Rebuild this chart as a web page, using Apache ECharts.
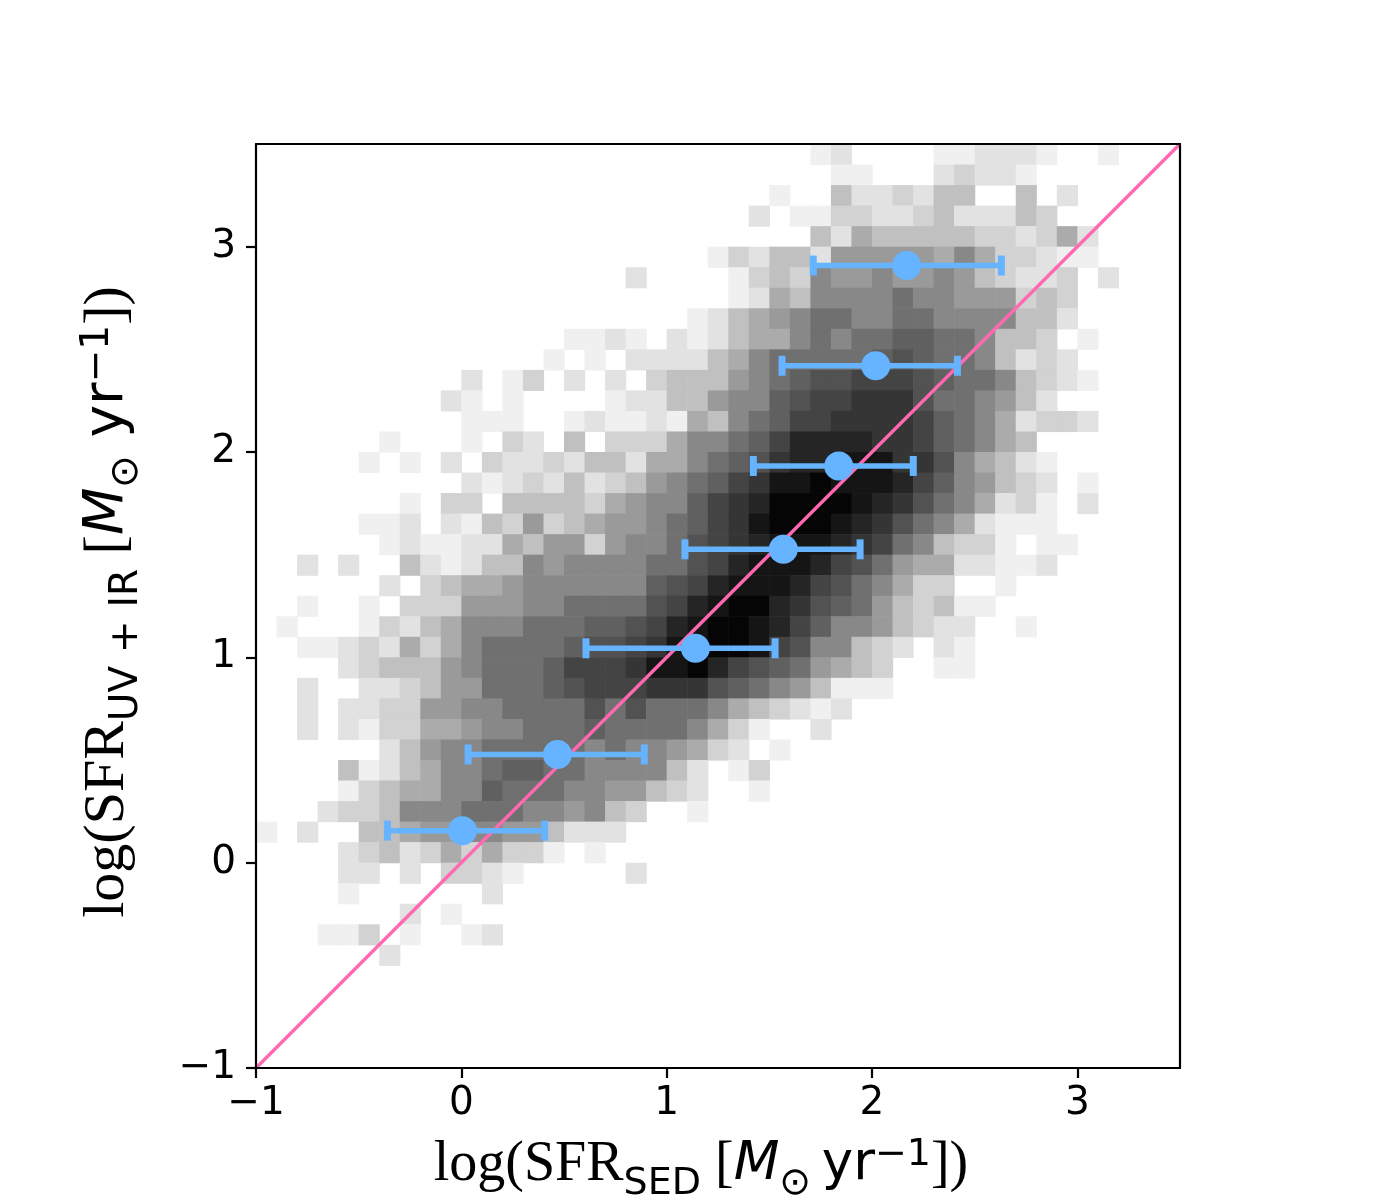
<!DOCTYPE html>
<html lang="en">
<head>
<meta charset="UTF-8">
<title>SFR UV+IR vs SFR SED</title>
<script src="https://cdn.jsdelivr.net/npm/echarts@6/dist/echarts.min.js"></script>
<style>
	html, body { margin: 0; padding: 0; background: #fff; }
	#chart { width: 1400px; height: 1200px; }
</style>
</head>
<body>
<div id="chart"></div>
<script>
// 2D histogram: one hex digit per 0.1 x 0.1 bin,
// 0 = empty, 1 = lightest grey ... f = black.
// rows go from the top (y 3.4..3.5) downwards, columns from x = -1 rightwards
var binSize = 0.1;
var binStartX = -1;
var binTopY = 3.5;
var histRows = [
	'000000000000000' + '000000000000120' + '000112221001000',
	'000000000000000' + '000000000000011' + '000232210000000',
	'000000000000000' + '000000000010042' + '232440040200000',
	'000000000000000' + '000000000201133' + '223422243000000',
	'000000000000000' + '000000000000425' + '444443323520000',
	'000000000000000' + '000000013244266' + '666575332110000',
	'000000000000000' + '000200001343766' + '766764322302000',
	'000000000000000' + '000000001254777' + '787766634300000',
	'000000000000000' + '000000124567887' + '788777744200000',
	'000000000000000' + '112102124557878' + '899887443010000',
	'000000000000001' + '010222245788888' + '9a9887423200000',
	'000000000020130' + '202034446789aab' + 'bba988743210000',
	'000000000210100' + '00122446779abbc' + 'cca887642000000',
	'000000000011100' + '12112154789bbcc' + 'ccb987523320000',
	'000000100010320' + '4033357789bdddd' + 'ccb987540000000',
	'000001010203223' + '244255789acddee' + 'ecca75421000000',
	'000000000021232' + '42346789bceefee' + 'edb976432010000',
	'000000010330444' + '4356779bcdffffe' + 'dca875231020000',
	'000001120214363' + '4566789bcefffed' + 'ca8752111000000',
	'000000121122546' + '636778abcdeeedc' + 'b87433101100000',
	'002020042124476' + '777788abdeeedba' + '865522112000000',
	'000000203455677' + '77779abdeeedba8' + '753300100000000',
	'001001033366677' + '8888abdeffdca98' + '643411000000000',
	'010001324577788' + '899abdeffedb977' + '643220010000000',
	'001123253578888' + '9aabceeffeba774' + '320210000000000',
	'000023444678889' + 'bbbceefdba98654' + '300110000000000',
	'002002234668889' + 'abbbccca9876411' + '100000000000000',
	'002022336677888' + '8a8a88875432120' + '000000000000000',
	'002021335567788' + '898888753100200' + '000000000000000',
	'000000246778888' + '878776532010000' + '000000000000000',
	'000041245778998' + '877774201300000' + '000000000000000',
	'000013455779888' + '776643200100000' + '000000000000000',
	'000233477788877' + '674300100000000' + '000000000000000',
	'102004456677664' + '222000000000000' + '000000000000000',
	'000023423535331' + '010000000000000' + '000000000000000',
	'000022020332100' + '000200000000000' + '000000000000000',
	'000010000002000' + '000000000000000' + '000000000000000',
	'000000020100000' + '000000000000000' + '000000000000000',
	'000113010012000' + '000000000000000' + '000000000000000',
	'000000200000000' + '000000000000000' + '000000000000000'
];
// grey for each level 1..f
var greys = ['#f0f0f0', '#e2e2e2', '#d2d2d2', '#c0c0c0', '#ababab', '#9a9a9a', '#888888',
	'#707070', '#606060', '#525252', '#444444', '#353535', '#252525', '#151515', '#050505'];

// binned medians with their x ranges
var medX = [0.005, 0.468, 1.140, 1.568, 1.838, 2.018, 2.169];
var medY = [0.156, 0.527, 1.044, 1.526, 1.932, 2.420, 2.908];
var errLo = [-0.360, 0.033, 0.607, 1.089, 1.422, 1.562, 1.714];
var errHi = [0.406, 0.891, 1.528, 1.942, 2.201, 2.416, 2.630];

// one-to-one line
var oneToOne = [[-1, -1], [3.5, 3.5]];
var tickValues = [-1, 0, 1, 2, 3];

var BLUE = '#66b3ff';
var PINK = '#ff69b4';

var cells = [];
histRows.forEach(function (row, j) {
	for (var i = 0; i < row.length; i++) {
		var level = parseInt(row.charAt(i), 16);
		if (level > 0) {
			cells.push([binStartX + i * binSize, binTopY - (j + 1) * binSize, level]);
		}
	}
});

var medians = medX.map(function (x, k) { return [x, medY[k]]; });
var ranges = medX.map(function (x, k) { return [x, medY[k], errLo[k], errHi[k]]; });

// mathtext-like label: serif roman, sans subscripts/superscripts (shifted with padding)
function labelRich(serif, sans, small) {
	return {
		r: { fontFamily: 'Liberation Serif', fontSize: serif, lineHeight: 90, verticalAlign: 'middle', color: '#000' },
		s: { fontFamily: 'DejaVu Sans', fontSize: small, lineHeight: 90, verticalAlign: 'middle', padding: [37, 0, 0, 0], color: '#000' },
		i: { fontFamily: 'DejaVu Sans', fontStyle: 'italic', fontSize: sans, lineHeight: 90, verticalAlign: 'middle', color: '#000' },
		n: { fontFamily: 'DejaVu Sans', fontSize: sans, lineHeight: 90, verticalAlign: 'middle', color: '#000' },
		p: { fontFamily: 'DejaVu Sans', fontSize: small, lineHeight: 90, verticalAlign: 'middle', padding: [0, 0, 21, 0], color: '#000' }
	};
}

function tickText(v) {
	return v < 0 ? '\u2212' + Math.abs(v) : String(v);
}

var frameLine = { show: true, onZero: false, lineStyle: { color: '#000', width: 2.2 } };
var tickStyle = { show: true, inside: false, length: 10, customValues: tickValues, lineStyle: { color: '#000', width: 2.2 } };
var labelStyle = { customValues: tickValues, formatter: tickText, fontFamily: 'DejaVu Sans', fontSize: 39, color: '#000' };

var myChart = echarts.init(document.getElementById('chart'));
var option = {
	animation: false,
	backgroundColor: '#fff',
	grid: { left: 256, top: 144, width: 924, height: 924, containLabel: false, outerBoundsMode: 'none' },
	visualMap: {
		show: false,
		type: 'continuous',
		min: 1,
		max: 15,
		dimension: 2,
		seriesIndex: 0,
		inRange: { color: greys }
	},
	xAxis: [{
		type: 'value', min: -1, max: 3.5, position: 'bottom', z: 10,
		axisLine: frameLine, axisTick: tickStyle,
		axisLabel: Object.assign({ margin: 16 }, labelStyle),
		splitLine: { show: false },
		name: '{r|log(SFR}{s|SED}{r| [}{i|M}{s|\u2299}{n|\u2009yr}{p|\u22121}{r|])}',
		nameLocation: 'middle', nameGap: 39,
		nameTextStyle: { rich: labelRich(56, 53, 38), padding: [0, 34, 0, 0] }
	}, {
		type: 'value', min: -1, max: 3.5, position: 'top', z: 10,
		axisLine: frameLine, axisTick: { show: false }, axisLabel: { show: false }, splitLine: { show: false }
	}],
	yAxis: [{
		type: 'value', min: -1, max: 3.5, position: 'left', z: 10,
		axisLine: frameLine, axisTick: tickStyle,
		axisLabel: Object.assign({ margin: 20 }, labelStyle),
		splitLine: { show: false },
		name: '{r|log(SFR}{s|UV\u2004+\u2004IR}{r| [}{i|M}{s|\u2299}{n| yr}{p|\u22121}{r|])}',
		nameLocation: 'middle', nameGap: 103, nameRotate: 90,
		nameTextStyle: { rich: labelRich(58, 55, 39), padding: [0, 0, 0, 8] }
	}, {
		type: 'value', min: -1, max: 3.5, position: 'right', z: 10,
		axisLine: frameLine, axisTick: { show: false }, axisLabel: { show: false }, splitLine: { show: false }
	}],
	series: [{
		// histogram bins
		type: 'custom',
		z: 1,
		silent: true,
		data: cells,
		renderItem: function (params, api) {
			var x0 = api.value(0), y0 = api.value(1);
			var tl = api.coord([x0, y0 + binSize]);
			var br = api.coord([x0 + binSize, y0]);
			return {
				type: 'rect',
				shape: { x: tl[0], y: tl[1], width: br[0] - tl[0] + 0.6, height: br[1] - tl[1] + 0.6 },
				style: { fill: api.visual('color') }
			};
		}
	}, {
		type: 'line',
		z: 3,
		data: oneToOne,
		symbol: 'none',
		silent: true,
		lineStyle: { color: PINK, width: 3.4 }
	}, {
		// horizontal error bars
		type: 'custom',
		z: 4,
		silent: true,
		data: ranges,
		renderItem: function (params, api) {
			var y = api.value(1);
			var a = api.coord([api.value(2), y]);
			var b = api.coord([api.value(3), y]);
			var cap = 10;
			return {
				type: 'group',
				children: [
					{ type: 'line', shape: { x1: a[0], y1: a[1], x2: b[0], y2: b[1] }, style: { stroke: BLUE, lineWidth: 5.5 } },
					{ type: 'line', shape: { x1: a[0], y1: a[1] - cap, x2: a[0], y2: a[1] + cap }, style: { stroke: BLUE, lineWidth: 7 } },
					{ type: 'line', shape: { x1: b[0], y1: b[1] - cap, x2: b[0], y2: b[1] + cap }, style: { stroke: BLUE, lineWidth: 7 } }
				]
			};
		}
	}, {
		type: 'scatter',
		z: 5,
		data: medians,
		symbolSize: 29,
		itemStyle: { color: BLUE, opacity: 1 }
	}]
};
myChart.setOption(option);
</script>
</body>
</html>
